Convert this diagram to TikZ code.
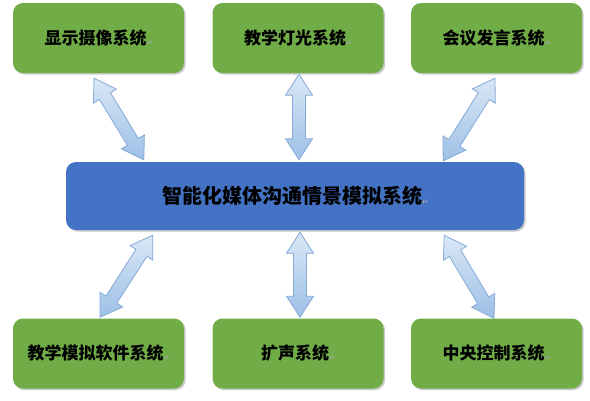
\documentclass[tikz,border=0pt]{standalone}
\usepackage{fontspec}
\newfontfamily\cjk{Noto Sans CJK SC}
\newfontfamily\symf{DejaVu Sans}
\usetikzlibrary{calc,shadows}
\definecolor{boxgreen}{HTML}{70AD47}
\definecolor{boxblue}{HTML}{4472C4}
\definecolor{arrfillA}{HTML}{D9E7F6}
\definecolor{arrfillB}{HTML}{9DC0E6}
\definecolor{arrline}{HTML}{86AAD8}
\newcommand\retmark{{\symf\fontsize{7}{7}\selectfont\color{black!35}\raisebox{-1pt}{↵}}}
\newcommand\dblarr[2]{%
  \path[arrowshape]
    (#1)
    -- ($(#1)!21pt!(#2)!13.5pt!90:(#2)$)
    -- ($(#1)!21pt!(#2)!6.5pt!90:(#2)$)
    -- ($(#2)!21pt!(#1)!6.5pt!-90:(#1)$)
    -- ($(#2)!21pt!(#1)!13.5pt!-90:(#1)$)
    -- (#2)
    -- ($(#2)!21pt!(#1)!13.5pt!90:(#1)$)
    -- ($(#2)!21pt!(#1)!6.5pt!90:(#1)$)
    -- ($(#1)!21pt!(#2)!6.5pt!-90:(#2)$)
    -- ($(#1)!21pt!(#2)!13.5pt!-90:(#2)$)
    -- cycle;}
\tikzset{
  sysbox/.style={rounded corners=10pt, fill=boxgreen, minimum width=171pt, minimum height=70pt,
    inner sep=0pt, font=\cjk\bfseries\fontsize{17}{17}\selectfont, text=black,
    drop shadow={shadow xshift=1.6pt, shadow yshift=-1.6pt, opacity=0.35, fill=black!60}},
  mainbox/.style={rounded corners=10pt, fill=boxblue, minimum width=458pt, minimum height=68pt,
    inner sep=0pt, font=\cjk\bfseries\fontsize{20}{20}\selectfont, text=black,
    drop shadow={shadow xshift=1.6pt, shadow yshift=-1.6pt, opacity=0.35, fill=black!60}},
  arrowshape/.style={draw=arrline, line width=0.8pt, line join=miter,
    top color=arrfillA, bottom color=arrfillB},
}
\begin{document}
\begin{tikzpicture}[x=1pt,y=1pt]
\useasboundingbox (0,0) rectangle (590,-400);
\node[sysbox] (t1) at (98.5,-38) {显示摄像系统\retmark};
\node[sysbox] (t2) at (298,-38) {教学灯光系统\retmark};
\node[sysbox] (t3) at (496.5,-38) {会议发言系统\retmark};
\node[mainbox] (c) at (295,-196) {智能化媒体沟通情景模拟系统\retmark};
\node[sysbox] (b1) at (98.5,-353.5) {教学模拟软件系统\retmark};
\node[sysbox] (b2) at (298,-353.5) {扩声系统\retmark};
\node[sysbox] (b3) at (496.5,-353.5) {中央控制系统\retmark};
% arrow tips anchored on the boxes
\coordinate (a1s) at ($(t1.south)+(-4.5,-5)$);
\coordinate (a1e) at ($(c.north west)+(78,2)$);
\coordinate (a2s) at ($(t2.south)+(1,-1)$);
\coordinate (a2e) at ($(c.north)+(4,2)$);
\coordinate (a3s) at ($(t3.south)+(-1.5,-5)$);
\coordinate (a3e) at ($(c.north east)+(-81,1)$);
\coordinate (b1s) at ($(c.south west)+(87,-5)$);
\coordinate (b1e) at ($(b1.north)+(1.5,1)$);
\coordinate (b2s) at ($(c.south)+(5,-2)$);
\coordinate (b2e) at ($(b2.north)+(2,1)$);
\coordinate (b3s) at ($(c.south east)+(-80,-5)$);
\coordinate (b3e) at ($(b3.north)+(-2.5,0)$);
\dblarr{a1s}{a1e}
\dblarr{a2s}{a2e}
\dblarr{a3s}{a3e}
\dblarr{b1s}{b1e}
\dblarr{b2s}{b2e}
\dblarr{b3s}{b3e}
\end{tikzpicture}
\end{document}
